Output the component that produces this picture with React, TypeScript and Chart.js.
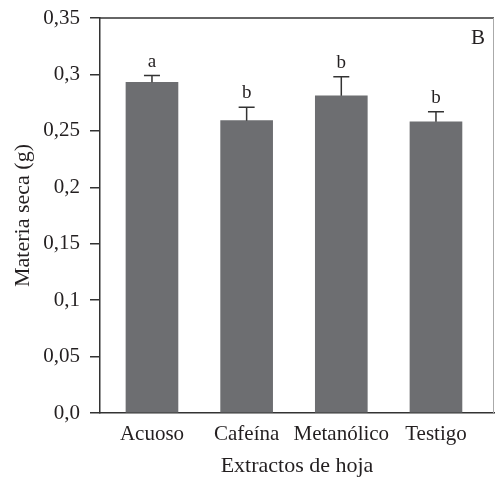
import React, { useEffect, useRef } from "react";
import { Chart, registerables } from "chart.js";

Chart.register(...registerables);

const categories = ["Acuoso", "Cafeína", "Metanólico", "Testigo"];
const means = [0.293, 0.259, 0.281, 0.258];
const errors = [0.006, 0.012, 0.017, 0.009];
const letters = ["a", "b", "b", "b"];
const yTicks = [0, 0.05, 0.1, 0.15, 0.2, 0.25, 0.3, 0.35];
const yTickLabels = ["0,0", "0,05", "0,1", "0,15", "0,2", "0,25", "0,3", "0,35"];
const panelLabel = "B";

const FONT = "'Liberation Serif', 'Times New Roman', serif";
const TEXT = "#231f20";

const overlay = {
  id: "overlay",
  afterDatasetsDraw(chart: any) {
    const { ctx, chartArea } = chart;
    const xs = chart.scales.x;
    const ys = chart.scales.y;
    ctx.save();
    ctx.strokeStyle = "#333";
    ctx.lineWidth = 1.5;
    ctx.beginPath();
    ctx.moveTo(chartArea.left, chartArea.top);
    ctx.lineTo(chartArea.right, chartArea.top);
    ctx.stroke();
    ctx.strokeStyle = "#aaa";
    ctx.lineWidth = 1;
    ctx.beginPath();
    ctx.moveTo(chartArea.right - 0.5, chartArea.top);
    ctx.lineTo(chartArea.right - 0.5, chartArea.bottom);
    ctx.stroke();
    ctx.strokeStyle = "#333";
    ctx.lineWidth = 1.5;
    ctx.fillStyle = TEXT;
    ctx.font = `19px ${FONT}`;
    ctx.textAlign = "center";
    ctx.textBaseline = "alphabetic";
    means.forEach((m, i) => {
      const x = xs.getPixelForValue(i);
      const yTop = ys.getPixelForValue(m);
      const yErr = ys.getPixelForValue(m + errors[i]);
      ctx.beginPath();
      ctx.moveTo(x, yTop);
      ctx.lineTo(x, yErr);
      ctx.moveTo(x - 8, yErr);
      ctx.lineTo(x + 8, yErr);
      ctx.stroke();
      ctx.fillText(letters[i], x, yErr - 9);
    });
    ctx.font = `21px ${FONT}`;
    ctx.fillText(panelLabel, chartArea.right - 16, chartArea.top + 26);
    ctx.restore();
  },
};

export default function App() {
  const ref = useRef<HTMLCanvasElement | null>(null);
  useEffect(() => {
    if (!ref.current) return;
    const chart = new Chart(ref.current, {
      type: "bar",
      data: {
        datasets: [
          {
            data: means.map((v, i) => ({ x: i, y: v })),
            backgroundColor: "#6d6e71",
            barThickness: 52,
          },
        ],
      },
      options: {
        responsive: false,
        animation: false,
        layout: { padding: { left: 0, top: 18, right: 1, bottom: 0 } },
        plugins: { legend: { display: false }, tooltip: { enabled: false } },
        scales: {
          x: {
            type: "linear",
            offset: false,
            min: -0.549,
            max: 3.613,
            afterBuildTicks: (s: any) => {
              s.ticks = categories.map((_, i) => ({ value: i }));
            },
            afterFit: (s: any) => {
              s.height = 70;
              s.paddingLeft = 0;
              s.paddingRight = 0;
            },
            grid: { display: false, drawTicks: false, offset: false },
            border: { color: "#333", width: 1.5 },
            ticks: {
              padding: 9,
              color: TEXT,
              font: { family: FONT, size: 21 },
              callback: (v: any) => categories[v] ?? "",
              maxRotation: 0,
              autoSkip: false,
            },
            title: {
              display: true,
              text: "Extractos de hoja",
              color: TEXT,
              font: { family: FONT, size: 22 },
              padding: { top: 2 },
            },
          },
          y: {
            min: 0,
            max: 0.35,
            afterBuildTicks: (s: any) => {
              s.ticks = yTicks.map((v) => ({ value: v }));
            },
            afterFit: (s: any) => {
              s.width = 100;
              s.paddingTop = 0;
              s.paddingBottom = 0;
            },
            grid: { drawOnChartArea: false, tickLength: 10, tickColor: "#333", lineWidth: 1.5 },
            border: { color: "#333", width: 1.5 },
            ticks: {
              padding: 10,
              color: TEXT,
              font: { family: FONT, size: 21 },
              callback: (_v: any, idx: number) => yTickLabels[idx],
            },
            title: {
              display: true,
              text: "Materia seca (g)",
              color: TEXT,
              font: { family: FONT, size: 22 },
              padding: { top: 10, bottom: 0 },
            },
          },
        },
      },
      plugins: [overlay],
    } as any);
    return () => chart.destroy();
  }, []);
  return (
    <div style={{ position: "absolute", left: 0, top: 0, width: 495, height: 483, background: "#fff" }}>
      <canvas ref={ref} width={495} height={483} />
    </div>
  );
}
